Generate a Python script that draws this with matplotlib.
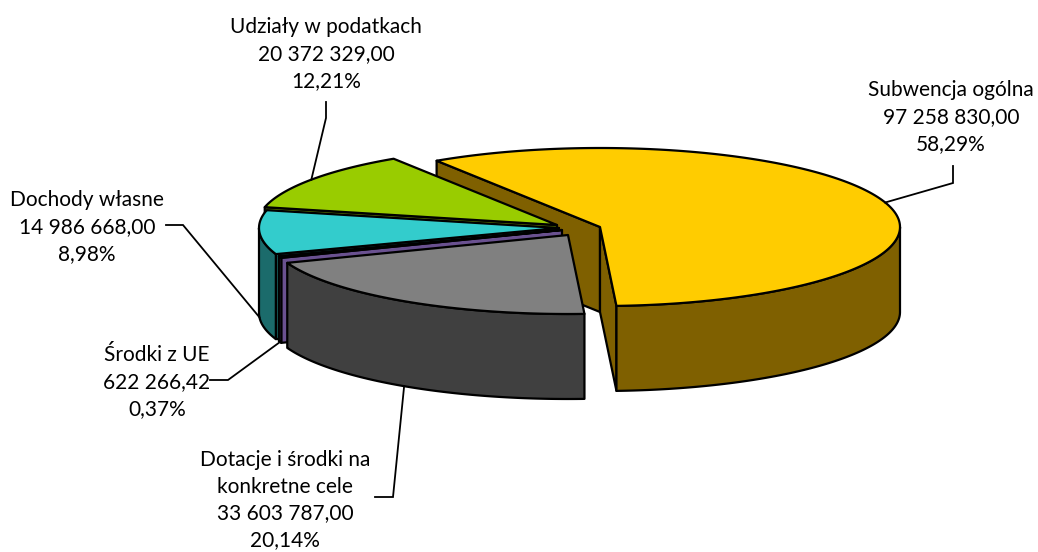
import numpy as np
import matplotlib
matplotlib.use("Agg")
import matplotlib.pyplot as plt
from matplotlib.patches import Polygon

# data
labels = ["Subwencja ogólna", "Dotacje i środki na\nkonkretne cele", "Środki z UE",
          "Dochody własne", "Udziały w podatkach"]
values = [97258830.00, 33603787.00, 622266.42, 14986668.00, 20372329.00]

# style / layout
top_colors = ["#FFCC00", "#808080", "#8064A2", "#33CCCC", "#99CC00"]
side_colors = ["#7F6000", "#404040", "#6A5190", "#1B6B6B", "#5C7A00"]
offsets = [(34, -5), (2, 3), (-4, -2), (-7, -4), (-9, -7)]   # slice shift in pixels

W, H = 1038, 552
CX, CY = 566, 232          # pie centre in pixels
RX, RY = 300, 79           # ellipse radii of the top face
DEPTH = 85                 # height of the side wall
START = 123.0              # math angle of first slice edge, slices run clockwise

# text block centre, stub start, elbow
label_pos = [(951, 117), (285, 500), (157, 382), (87, 227), (326, 54)]
stub = [((953, 166), (953, 183)), ((375, 497), (393, 497)), ((210, 380), (228, 380)),
        ((166, 225), (183, 225)), ((326, 102), (326, 118))]


def fmt_value(v):
    return f"{v:,.2f}".replace(",", " ").replace(".", ",")


def pt(th, cx, cy, z=0.0):
    t = np.radians(th)
    return cx + RX * np.cos(t), cy - RY * np.sin(t) + z


def arc(a, b, cx, cy, z=0.0, n=None):
    n = n or max(int(abs(a - b) * 2) + 2, 3)
    th = np.linspace(a, b, n)
    x, y = pt(th, cx, cy, z)
    return list(zip(x, y))


vals = np.asarray(values, float)
total = vals.sum()
spans = vals / total * 360.0
a0s = START - np.concatenate([[0], np.cumsum(spans)[:-1]])
a1s = a0s - spans
mids = (a0s + a1s) / 2

centres = [(CX + dx, CY + dy) for dx, dy in offsets]

fig = plt.figure(figsize=(W / 100, H / 100), dpi=100)
ax = fig.add_axes([0, 0, 1, 1])
ax.set_xlim(0, W)
ax.set_ylim(H, 0)
ax.axis("off")

edge_kw = dict(edgecolor="black", linewidth=1.6, joinstyle="round")

cut_walls = []
outer_walls = []
for i, (a0, a1) in enumerate(zip(a0s, a1s)):
    cx, cy = centres[i]
    # radial walls at both slice edges
    for a, normal in ((a0, a0 + 90), (a1, a1 - 90)):
        if np.sin(np.radians(normal)) < 0:
            ex, ey = pt(a, cx, cy)
            poly = [(cx, cy), (ex, ey), (ex, ey + DEPTH), (cx, cy + DEPTH)]
            cut_walls.append(((cy + ey) / 2, poly, side_colors[i]))
    # curved outer wall, front half only
    for k in range(-2, 3):
        lo = max(a1, 360 * k - 180)
        hi = min(a0, 360 * k)
        if hi > lo:
            poly = arc(hi, lo, cx, cy) + arc(lo, hi, cx, cy, DEPTH)
            ym = pt((hi + lo) / 2, cx, cy)[1]
            outer_walls.append((ym, poly, side_colors[i]))

for _, poly, col in sorted(cut_walls, key=lambda w: w[0]):
    ax.add_patch(Polygon(poly, closed=True, facecolor=col, **edge_kw))
for _, poly, col in sorted(outer_walls, key=lambda w: w[0]):
    ax.add_patch(Polygon(poly, closed=True, facecolor=col, **edge_kw))
for i, (a0, a1) in enumerate(zip(a0s, a1s)):
    cx, cy = centres[i]
    poly = [(cx, cy)] + arc(a0, a1, cx, cy)
    ax.add_patch(Polygon(poly, closed=True, facecolor=top_colors[i], **edge_kw))

# labels with leader lines
for i, lab in enumerate(labels):
    pct = vals[i] / total * 100
    txt = f"{lab}\n{fmt_value(vals[i])}\n{pct:.2f}%".replace(".", ",")
    tx, ty = label_pos[i]
    ax.text(tx, ty, txt, ha="center", va="center", fontsize=15, family=["Lato", "DejaVu Sans"],
            linespacing=1.42, color="black")
    cx, cy = centres[i]
    m = mids[i]
    z = DEPTH if np.sin(np.radians(m)) < 0 else 0.0
    axp, ayp = pt(m, cx, cy, z)
    (sx, sy), (bx, by) = stub[i]
    ax.plot([sx, bx, axp], [sy, by, ayp], color="black", lw=1.3, solid_joinstyle="miter")

fig.savefig("out.png", dpi=100)
